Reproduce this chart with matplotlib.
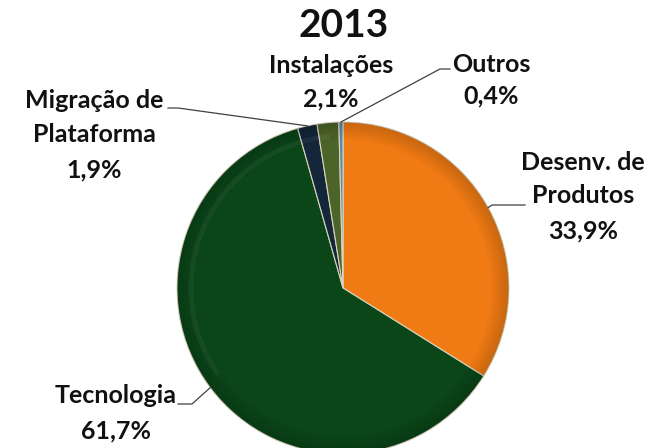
import numpy as np
import matplotlib
matplotlib.use('Agg')
import matplotlib.pyplot as plt
from matplotlib.patches import Wedge
from matplotlib.lines import Line2D

# Dados do gráfico (2013)
categorias = ['Desenv. de\nProdutos', 'Tecnologia', 'Migração de\nPlataforma', 'Instalações', 'Outros']
valores = [33.9, 61.7, 1.9, 2.1, 0.4]
cores = ['#f07b14', '#0b4619', '#13263a', '#4d6428', '#5d8aa8']
titulo = '2013'

plt.rcParams['font.family'] = ['Lato', 'DejaVu Sans']

W, H = 652, 448
fig = plt.figure(figsize=(W / 100, H / 100), dpi=100)

# centro da pizza em pixels (a partir do topo) e raio
cx, cy, r = 343, 288, 166
ax = fig.add_axes([(cx - r) / W, (H - cy - r) / H, 2 * r / W, 2 * r / H])

wedges, _ = ax.pie(valores, colors=cores, startangle=90, counterclock=False,
                   radius=1, wedgeprops=dict(edgecolor='#d9d4bf', linewidth=0.8))
ax.set_xlim(-1, 1)
ax.set_ylim(-1, 1)
ax.set_aspect('auto')
ax.axis('off')

# efeito de relevo na borda
for k in range(12):
    r0 = 0.88 + k * 0.01
    ax.add_patch(Wedge((0, 0), r0 + 0.01, 0, 360, width=0.01,
                       facecolor='black', alpha=0.015 * k, linewidth=0))
ax.add_patch(Wedge((0, 0), 0.93, 95, 215, width=0.03,
                   facecolor='white', alpha=0.05, linewidth=0))


def fpx(x, y):
    # pixels (origem no topo) -> fração da figura
    return x / W, (H - y) / H


def ancora(w):
    ang = np.deg2rad((w.theta1 + w.theta2) / 2)
    p = ax.transData.transform((np.cos(ang), np.sin(ang)))
    return fig.transFigure.inverted().transform(p)


# posição dos rótulos: centro x e linhas de base (pixels)
pos_rotulos = [
    (583, [170, 203, 238]),
    (116, [403, 438]),
    (94, [108, 142, 177]),
    (331, [73, 106]),
    (491, [72, 103]),
]
# pontos da linha guia (do lado do texto)
guias = [
    [(525, 205), (492, 205)],
    [(178, 404), (192, 404)],
    [(168, 108), (178, 108)],
    None,
    [(450, 69), (440, 69)],
]

for w, cat, v, (x, bases), g in zip(wedges, categorias, valores, pos_rotulos, guias):
    linhas = cat.split('\n') + [f'{v:.1f}'.replace('.', ',') + '%']
    for txt, yb in zip(linhas, bases):
        fx, fy = fpx(x, yb)
        fig.text(fx, fy, txt, ha='center', va='baseline', fontsize=18,
                 fontweight='bold', color='#111111')
    if g is not None:
        pts = [fpx(*p) for p in g] + [tuple(ancora(w))]
        xs, ys = zip(*pts)
        fig.add_artist(Line2D(xs, ys, transform=fig.transFigure,
                              color='#404040', linewidth=0.9))

fx, fy = fpx(344, 37)
fig.text(fx, fy, titulo, ha='center', va='baseline', fontsize=28,
         fontweight='bold', color='#111111')

fig.savefig('out.png', dpi=100)
